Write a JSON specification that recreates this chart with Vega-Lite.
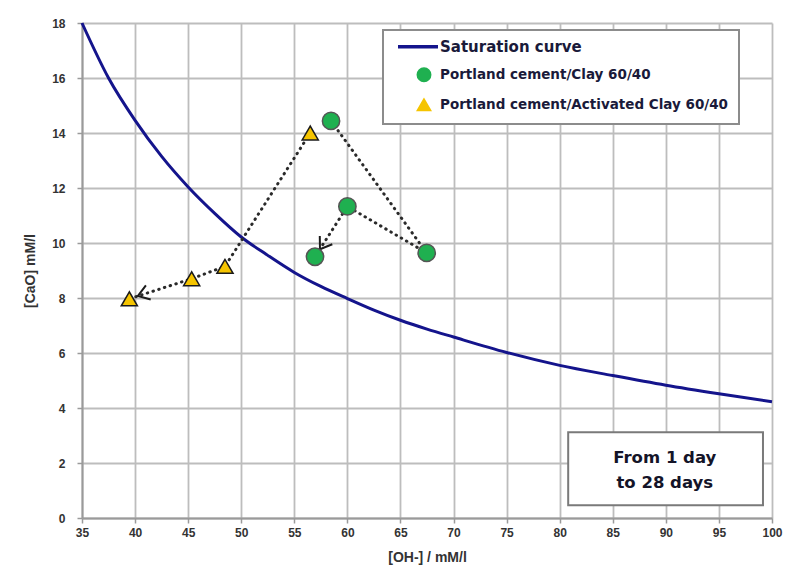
{
  "$schema": "https://vega.github.io/schema/vega-lite/v6.json",
  "width": 690,
  "height": 495,
  "autosize": {"type": "none"},
  "padding": {"left": 82, "top": 23, "right": 16, "bottom": 57},
  "background": "white",
  "datasets": {
    "curve": [
      {"series": "Saturation curve", "OH": 35, "CaO": 18.0},
      {"series": "Saturation curve", "OH": 37.5, "CaO": 16.0},
      {"series": "Saturation curve", "OH": 40, "CaO": 14.46},
      {"series": "Saturation curve", "OH": 42.5, "CaO": 13.15},
      {"series": "Saturation curve", "OH": 45, "CaO": 12.04},
      {"series": "Saturation curve", "OH": 47.5, "CaO": 11.08},
      {"series": "Saturation curve", "OH": 50, "CaO": 10.22},
      {"series": "Saturation curve", "OH": 52.5, "CaO": 9.55},
      {"series": "Saturation curve", "OH": 55, "CaO": 8.93},
      {"series": "Saturation curve", "OH": 57.5, "CaO": 8.42},
      {"series": "Saturation curve", "OH": 60, "CaO": 7.98},
      {"series": "Saturation curve", "OH": 62.5, "CaO": 7.56},
      {"series": "Saturation curve", "OH": 65, "CaO": 7.19},
      {"series": "Saturation curve", "OH": 67.5, "CaO": 6.87},
      {"series": "Saturation curve", "OH": 70, "CaO": 6.58},
      {"series": "Saturation curve", "OH": 75, "CaO": 6.02},
      {"series": "Saturation curve", "OH": 80, "CaO": 5.55},
      {"series": "Saturation curve", "OH": 85, "CaO": 5.18},
      {"series": "Saturation curve", "OH": 90, "CaO": 4.83},
      {"series": "Saturation curve", "OH": 95, "CaO": 4.52},
      {"series": "Saturation curve", "OH": 100, "CaO": 4.23}
    ],
    "samples": [
      {"series": "Portland cement/Clay 60/40", "step": 1, "OH": 58.46, "CaO": 14.44},
      {"series": "Portland cement/Clay 60/40", "step": 2, "OH": 67.47, "CaO": 9.64},
      {"series": "Portland cement/Clay 60/40", "step": 3, "OH": 60.0, "CaO": 11.33},
      {"series": "Portland cement/Clay 60/40", "step": 4, "OH": 56.95, "CaO": 9.5},
      {"series": "Portland cement/Activated Clay 60/40", "step": 1, "OH": 56.5, "CaO": 14.0},
      {"series": "Portland cement/Activated Clay 60/40", "step": 2, "OH": 48.47, "CaO": 9.15},
      {"series": "Portland cement/Activated Clay 60/40", "step": 3, "OH": 45.33, "CaO": 8.7},
      {"series": "Portland cement/Activated Clay 60/40", "step": 4, "OH": 39.46, "CaO": 7.97}
    ]
  },
  "layer": [
    {
      "data": {"name": "curve"},
      "mark": {"type": "line", "strokeWidth": 3, "interpolate": "monotone"},
      "encoding": {
        "x": {"field": "OH", "type": "quantitative", "scale": {"domain": [35, 100], "nice": false, "zero": false}, "title": "[OH-] / mM/l",
          "axis": {"values": [35, 40, 45, 50, 55, 60, 65, 70, 75, 80, 85, 90, 95, 100], "labelPadding": 4, "titlePadding": 12, "grid": true, "labelFlush": false}},
        "y": {"field": "CaO", "type": "quantitative", "scale": {"domain": [0, 18], "nice": false}, "title": "[CaO] mM/l",
          "axis": {"values": [0, 2, 4, 6, 8, 10, 12, 14, 16, 18], "labelPadding": 12, "titlePadding": 14, "grid": true, "labelFlush": false}},
        "color": {"field": "series", "type": "nominal",
          "scale": {"domain": ["Saturation curve", "Portland cement/Clay 60/40", "Portland cement/Activated Clay 60/40"], "range": ["#14148c", "#1fb050", "#f5c400"]},
          "legend": {
            "encode": {
              "symbols": {"update": {
                "x": {"signal": "datum.value === 'Saturation curve' ? 25 : 31"},
                "size": {"signal": "datum.value === 'Saturation curve' ? 1600 : 180"},
                "strokeWidth": {"signal": "datum.value === 'Saturation curve' ? 3.5 : 1.5"},
                "stroke": {"signal": "datum.value === 'Saturation curve' ? '#14148c' : '#1a1a1a'"}
              }},
              "labels": {"update": {
                "x": {"value": 47},
                "fontSize": {"signal": "datum.value === 'Saturation curve' ? 15 : 13.5"}
              }},
              "legend": {"update": {"strokeWidth": {"value": 2}}}
            }
          }}
      }
    },
    {
      "data": {"name": "samples"},
      "mark": {"type": "line", "color": "#2a2a2a", "strokeWidth": 3, "strokeCap": "round", "strokeDash": [0.5, 5.5]},
      "encoding": {
        "x": {"field": "OH", "type": "quantitative"},
        "y": {"field": "CaO", "type": "quantitative"},
        "detail": {"field": "series", "type": "nominal"},
        "order": {"field": "step", "type": "quantitative"}
      }
    },
    {
      "data": {"name": "samples"},
      "transform": [{"filter": "datum.step === 4 && datum.series === 'Portland cement/Clay 60/40'"}],
      "mark": {"type": "point", "shape": "M-2.0,-0.75L-0.9,0L-2.0,0.75", "filled": false, "stroke": "#1a1a1a", "strokeWidth": 2, "size": 400, "angle": 123.5, "opacity": 1},
      "encoding": {
        "x": {"field": "OH", "type": "quantitative"},
        "y": {"field": "CaO", "type": "quantitative"}
      }
    },
    {
      "data": {"name": "samples"},
      "transform": [{"filter": "datum.step === 4 && datum.series === 'Portland cement/Activated Clay 60/40'"}],
      "mark": {"type": "point", "shape": "M-2.0,-0.75L-0.9,0L-2.0,0.75", "filled": false, "stroke": "#1a1a1a", "strokeWidth": 2, "size": 400, "angle": 161.4, "opacity": 1},
      "encoding": {
        "x": {"field": "OH", "type": "quantitative"},
        "y": {"field": "CaO", "type": "quantitative"}
      }
    },
    {
      "data": {"name": "samples"},
      "mark": {"type": "point", "filled": true, "opacity": 1, "strokeWidth": 1.5},
      "encoding": {
        "x": {"field": "OH", "type": "quantitative"},
        "y": {"field": "CaO", "type": "quantitative"},
        "color": {"field": "series", "type": "nominal"},
        "shape": {"field": "series", "type": "nominal",
          "scale": {"domain": ["Saturation curve", "Portland cement/Clay 60/40", "Portland cement/Activated Clay 60/40"], "range": ["stroke", "circle", "triangle-up"]}},
        "size": {"field": "series", "type": "nominal", "legend": null,
          "scale": {"domain": ["Portland cement/Clay 60/40", "Portland cement/Activated Clay 60/40"], "range": [300, 260]}},
        "stroke": {"field": "series", "type": "nominal", "legend": null,
          "scale": {"domain": ["Portland cement/Clay 60/40", "Portland cement/Activated Clay 60/40"], "range": ["#555555", "#1a1a1a"]}}
      }
    },
    {
      "data": {"values": [{}]},
      "mark": {"type": "rect", "fill": "white", "stroke": "#7a7a7a", "strokeWidth": 2},
      "encoding": {
        "x": {"datum": 80.8, "type": "quantitative"},
        "x2": {"datum": 99.15},
        "y": {"datum": 0.46, "type": "quantitative"},
        "y2": {"datum": 3.12}
      }
    },
    {
      "data": {"values": [{}]},
      "mark": {"type": "text", "text": ["From 1 day", "to 28 days"], "font": "DejaVu Sans", "fontWeight": "bold", "fontSize": 16.5, "lineHeight": 25, "color": "#141428", "align": "center", "baseline": "middle"},
      "encoding": {
        "x": {"datum": 89.9, "type": "quantitative"},
        "y": {"datum": 2.17, "type": "quantitative"}
      }
    }
  ],
  "resolve": {"scale": {"color": "shared", "shape": "shared"}},
  "config": {
    "view": {"stroke": null},
    "axis": {
      "grid": true, "labelFlush": false,
      "gridColor": "#bdbdbd", "gridWidth": 1.8, "domainColor": "#9a9a9a", "domainWidth": 2,
      "tickColor": "#9a9a9a", "tickWidth": 1.5, "tickSize": 5,
      "labelFont": "Liberation Sans", "labelFontWeight": "bold", "labelFontSize": 12, "labelColor": "#333333",
      "titleFont": "Liberation Sans", "titleFontWeight": "bold", "titleFontSize": 14, "titleColor": "#333333"
    },
    "legend": {
      "orient": "none", "legendX": 301, "legendY": 7, "title": null,
      "fillColor": "white", "strokeColor": "#8c8c8c", "padding": 10, "rowPadding": 10,
      "symbolSize": 1600, "symbolOpacity": 1, "labelOffset": 4,
      "labelFont": "DejaVu Sans", "labelFontWeight": "bold", "labelFontSize": 13.5, "labelColor": "#1a1a3a", "labelLimit": 400
    }
  }
}
